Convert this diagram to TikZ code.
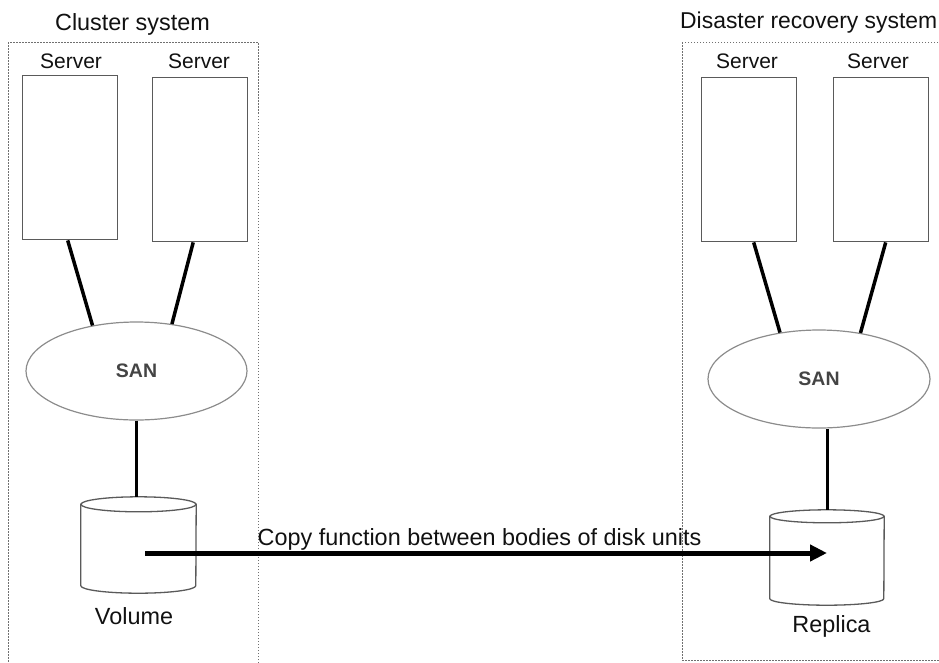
\documentclass[tikz,border=0pt]{standalone}
\usepackage{fontspec}
\setmainfont{Liberation Sans}
\usetikzlibrary{shapes.geometric,arrows.meta,calc}
\definecolor{boxgray}{HTML}{5A5A5A}
\definecolor{ellgray}{HTML}{8C8C8C}
\definecolor{dotgray}{HTML}{707070}
\definecolor{txt}{HTML}{111111}
\definecolor{santxt}{HTML}{444444}
\begin{document}
\begin{tikzpicture}[x=1pt,y=-1pt,
  serverbox/.style={draw=boxgray, line width=1.4pt, fill=white, minimum width=95pt, minimum height=164pt, inner sep=0pt, anchor=north west},
  sanell/.style={ellipse, draw=ellgray, line width=1.2pt, minimum width=221pt, minimum height=98pt, inner sep=0pt, font=\fontsize{19.5}{22}\selectfont\bfseries, text=santxt},
  diskbox/.style={rectangle, minimum width=115pt, minimum height=96pt, inner sep=0pt},
  diskline/.style={draw=boxgray, line width=1.3pt, fill=white},
  frame/.style={draw=dotgray, line width=1pt, dash pattern=on 1.5pt off 1.5pt},
  wire/.style={line width=3.5pt, black},
  lbl/.style={text=txt, inner sep=0pt, anchor=base, font=\fontsize{23.4}{27}\selectfont},
  srvlbl/.style={text=txt, inner sep=0pt, anchor=base, font=\fontsize{21}{25}\selectfont},
  copyarrow/.style={line width=5pt, black, -{Triangle[length=17pt,width=16pt]}}
]
\useasboundingbox (0,0) rectangle (939,662);

% draw a disk (cylinder) inside node #1, half-width #2, end-ellipse radius #3
\newcommand{\drawdisk}[3]{%
  \draw[diskline] ([yshift=-#3]#1.north west) -- ([yshift=#3]#1.south west)
     arc[start angle=180, end angle=360, x radius=#2, y radius=#3]
     -- ([yshift=-#3]#1.north east) -- cycle;
  \draw[diskline] ([yshift=-#3]#1.north) ellipse [x radius=#2, y radius=#3];
}

% frames
\draw[frame] (8,42) rectangle (258,700);
\draw[frame] (682,42) rectangle (990,660);

% titles
\node[lbl] (t1) at (132.5,30) {Cluster system};
\node[lbl, anchor=base west, font=\fontsize{22.9}{27}\selectfont] (t2) at (680,28) {Disaster recovery system};

% servers left
\node[serverbox] (s1) at (22,75) {};
\node[serverbox] (s2) at (152,77) {};
\node[srvlbl] (l1) at (71,68) {Server};
\node[srvlbl] (l2) at (199,68) {Server};
% servers right
\node[serverbox] (s3) at (701,77) {};
\node[serverbox] (s4) at (833,77) {};
\node[srvlbl] (l3) at (747,68) {Server};
\node[srvlbl] (l4) at (878,68) {Server};

% SANs
\node[sanell] (san1) at (136.5,371) {SAN};
\node[sanell, minimum width=222pt] (san2) at (819,379) {SAN};

% disks
\node[diskbox] (vol) at (138.5,545) {};
\node[diskbox, minimum width=114pt, minimum height=95pt] (rep) at (827,557.5) {};
\drawdisk{vol}{57.5pt}{7.5pt}
\drawdisk{rep}{57pt}{6.5pt}
\node[lbl] (volL) at (134,624) {Volume};
\node[lbl] (repL) at (831.5,632) {Replica};

% wires
\draw[wire] ([xshift=-2.5pt]s1.south) -- (san1.134);
\draw[wire] ([xshift=-7pt]s2.south) -- (san1.53);
\draw[wire] ([xshift=4.5pt]s3.south) -- (san2.130);
\draw[wire] ([xshift=4.5pt]s4.south) -- (san2.48);
\draw[wire, line width=3pt] (san1.south) -- (san1.south |- vol.north);
\draw[wire, line width=3pt] (rep.north) -- (rep.north |- san2.south);

% copy arrow
\coordinate (a1) at ([xshift=6.5pt,yshift=-8pt]vol.center);
\draw[copyarrow] (a1) -- (a1 -| rep.center);
\node[lbl] (cp) at (479.5,545) {Copy function between bodies of disk units};
\end{tikzpicture}
\end{document}
